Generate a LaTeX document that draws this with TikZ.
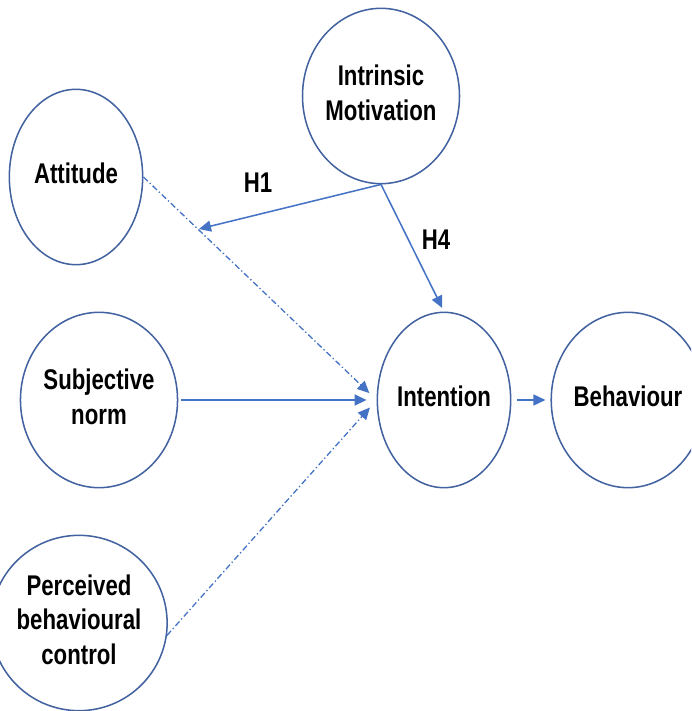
\documentclass[tikz,border=0pt]{standalone}
\usepackage{fontspec}
\setmainfont{Liberation Sans}
\usepackage{graphicx}
\usetikzlibrary{shapes.geometric,arrows.meta,calc}

\definecolor{rimblue}{RGB}{66,98,160}
\definecolor{arrowblue}{RGB}{68,114,196}

% narrow bold labels, one or more centred lines
\newcommand{\sqtext}[1]{\scalebox{0.78}[1]{\begin{tabular}{@{}c@{}}#1\end{tabular}}}

\begin{document}
\begin{tikzpicture}[x=0.03cm,y=-0.03cm,
  labelfont/.style={font=\fontsize{24.3}{29.5}\selectfont\bfseries},
  construct/.style={ellipse, draw=rimblue, line width=1.3pt, fill=white,
    minimum width=4.0cm, minimum height=5.26cm, inner sep=0pt, labelfont},
  hyplabel/.style={inner sep=0pt, labelfont},
  link/.style={draw=arrowblue, line width=1.3pt,
    -{Triangle[length=0.36cm,width=0.33cm]}},
  dashlink/.style={link, line width=1.1pt,
    dash pattern=on 0.18cm off 0.08cm on 0.04cm off 0.08cm},
]
\useasboundingbox (0,0) rectangle (691,711);
\fill[white] (0,0) rectangle (691,711);
\clip (0,0) rectangle (691,711);

% constructs
\node[construct] (att) at (76,177)  {\sqtext{Attitude}};
\node[construct] (im)  at (381,96)  {\sqtext{Intrinsic\\Motivation}};
\node[construct] (sn)  at (99,400)  {\raisebox{-3pt}{\sqtext{Subjective\\norm}}};
\node[construct] (int) at (444,400) {\sqtext{Intention}};
\node[construct] (beh) at (628,400) {\sqtext{Behaviour}};
\node[construct] (pbc) at (79,623)  {\raisebox{-5pt}{\sqtext{Perceived\\behavioural\\control}}};

% hypothesis labels
\node[hyplabel] (h1) at (258,186) {\sqtext{H1}};
\node[hyplabel] (h4) at (436,243) {\sqtext{H4}};

% moderated path target
\coordinate (h1tip) at (199,229);

% paths
\draw[dashlink, shorten >=0.3cm] (att.east) -- (int.west);
\draw[dashlink, shorten >=0.3cm] (pbc.-8) -- (int.west);
\draw[link, shorten <=0.09cm, shorten >=0.3cm] (sn.east) -- (int.west);
\draw[link] (im.south) -- (h1tip);
\draw[link, shorten >=0.12cm] (im.south) -- (int.north);
\draw[link, shorten <=0.18cm, shorten >=0.15cm] (int.east) -- (beh.west);
\end{tikzpicture}
\end{document}
